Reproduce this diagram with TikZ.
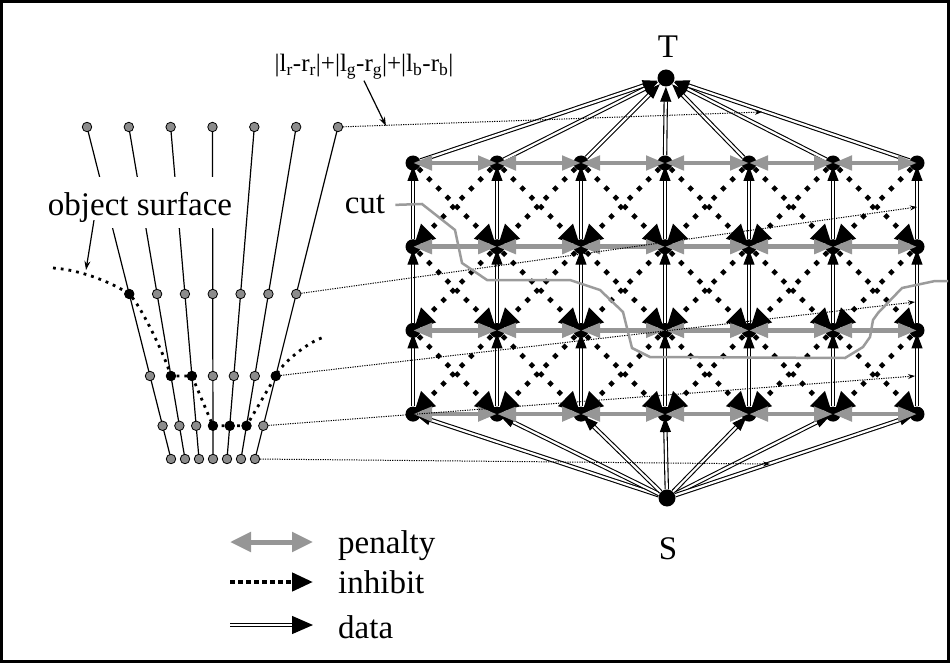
\documentclass[tikz,border=0pt]{standalone}
\usepackage{fontspec}
\setmainfont{Liberation Serif}
\usetikzlibrary{arrows.meta,calc}
\definecolor{pengray}{RGB}{150,150,150}
\definecolor{dotgray}{RGB}{140,140,140}
\definecolor{cutgray}{RGB}{155,155,155}
\begin{document}
\begin{tikzpicture}[x=1pt,y=-1pt,
  gn/.style={circle,fill=black,inner sep=0pt,minimum size=15pt},
  endn/.style={circle,fill=black,inner sep=0pt,minimum size=17pt},
  fd/.style={circle,draw=black,fill=dotgray,line width=0.8pt,inner sep=0pt,minimum size=9.5pt},
  bd/.style={circle,draw=black,fill=black,line width=0.8pt,inner sep=0pt,minimum size=9.5pt},
  fanline/.style={line width=1.2pt},
  dataedge/.style={draw=black,line width=1.1pt,double=white,double distance=2.2pt,-{Triangle[length=15pt,width=11pt]}},
  inhibit/.style={line width=4.6pt,dash pattern=on 4.6pt off 8.5pt,-{Triangle[length=21pt,width=20pt]},shorten >=1pt},
  penalty/.style={draw=pengray,line width=4.5pt,{Triangle[length=19pt,width=14pt]}-{Triangle[length=19pt,width=14pt]}},
  corr/.style={line width=1pt,dash pattern=on 1.2pt off 1.2pt,-{Stealth[length=7pt,width=5pt]}},
  lblarrow/.style={line width=1.2pt,-{Stealth[length=9pt,width=6pt]}},
  surf/.style={line width=2.8pt,dash pattern=on 2.8pt off 5pt},
  cutline/.style={draw=cutgray,line width=2.5pt},
  lbl/.style={font=\fontsize{33}{40}\selectfont,inner sep=2pt},
  legpen/.style={draw=pengray,line width=5pt,{Triangle[length=21pt,width=19pt]}-{Triangle[length=21pt,width=19pt]}},
  leginh/.style={line width=4.5pt,dash pattern=on 4.5pt off 3.5pt,-{Triangle[length=21pt,width=18pt]}},
  legdata/.style={draw=black,line width=1.3pt,double=white,double distance=2pt,-{Triangle[length=21pt,width=18pt]}}
]
\useasboundingbox (0,0) rectangle (950,663);
\draw[line width=2.5pt] (1.5,1.5) rectangle (948.5,661.5);

% ---------- grid nodes ----------
\foreach \r in {1,...,4}{
  \foreach \c in {1,...,7}{
    \node[gn] (n-\r-\c) at ({413+84*(\c-1)},{163+83.7*(\r-1)}) {};
  }
}
\node[endn] (T) at (666,78) {};
\node[endn] (S) at (667,498) {};

% ---------- inhibit edges ----------
\foreach \r in {1,2,3}{
  \foreach \c in {1,...,7}{
    \pgfmathtruncatemacro{\rn}{\r+1}
    \pgfmathtruncatemacro{\cl}{\c-1}
    \pgfmathtruncatemacro{\cr}{\c+1}
    \ifnum\c>1 \draw[inhibit] (n-\r-\c) -- (n-\rn-\cl.center);\fi
    \ifnum\c<7 \draw[inhibit] (n-\r-\c) -- (n-\rn-\cr.center);\fi
  }
}

% ---------- data edges ----------
\foreach \r in {1,2,3}{
  \foreach \c in {1,...,7}{
    \pgfmathtruncatemacro{\rn}{\r+1}
    \draw[dataedge,shorten >=3pt] (n-\rn-\c) -- (n-\r-\c.center);
  }
}
\foreach \c in {1,...,7}{
  \draw[dataedge] (n-1-\c) -- (T);
  \draw[dataedge,shorten >=3pt] (S) -- (n-4-\c.center);
}

% ---------- penalty edges ----------
\foreach \r in {1,...,4}{
  \foreach \c in {1,...,6}{
    \pgfmathtruncatemacro{\cn}{\c+1}
    \draw[penalty] (n-\r-\c.center) -- (n-\r-\cn.center);
  }
}

% ---------- left fan ----------
\foreach \i in {0,...,6}{
  \coordinate (ft\i) at ({87+41.83*\i},127);
  \coordinate (fb\i) at ({171+14*\i},459);
  \draw[fanline] (ft\i) -- (fb\i);
}
\node[lbl,fill=white,text height=36pt,text depth=11pt,anchor=base] (osl) at (140,215) {object surface};

\foreach \i in {0,...,6} \node[fd] (d1-\i) at (ft\i) {};
\foreach \i/\s in {0/bd,1/fd,2/fd,3/fd,4/fd,5/fd,6/fd}
  \node[\s] (d2-\i) at ($(ft\i)!0.503!(fb\i)$) {};
\foreach \i/\s in {0/fd,1/bd,2/bd,3/fd,4/fd,5/fd,6/bd}
  \node[\s] (d3-\i) at ($(ft\i)!0.75!(fb\i)$) {};
\foreach \i/\s in {0/fd,1/fd,2/fd,3/bd,4/bd,5/bd,6/fd}
  \node[\s] (d4-\i) at ($(ft\i)!0.9!(fb\i)$) {};
\foreach \i in {0,...,6} \node[fd] (d5-\i) at (fb\i) {};

% object surface curve
\coordinate (osL) at (53,268);
\coordinate (osR) at (325,337);
\draw[surf] (osL) .. controls +(30,2) and +(-15,-10) .. (d2-0.center)
  .. controls +(12,12) and +(-6,-20) .. (d3-1.center) -- (d3-2.center)
  -- (d4-3.center) -- (d4-5.center) -- (d3-6.center)
  .. controls +(5,-12) and +(-15,3) .. (osR);
\foreach \s in {d2-0,d3-1,d3-2,d4-3,d4-4,d4-5,d3-6}
  \fill (\s) circle (4.75pt);

\coordinate (osA) at (86,270);
\draw[lblarrow] ($(osl.south)+(-46,-8)$) -- (osA);

% ---------- correspondence lines ----------
\coordinate (c1) at (762,112);
\coordinate (c2) at (917,207);
\coordinate (c3) at (915,302);
\coordinate (c4) at (915,376);
\coordinate (c5) at (770,464);
\draw[corr] (d1-6) -- (c1);
\draw[corr] (d2-6) -- (c2);
\draw[corr] (d3-6) -- (c3);
\draw[corr] (d4-6) -- (c4);
\draw[corr] (d5-6) -- (c5);

% formula label
\node[anchor=base,font=\fontsize{25}{30}\selectfont,inner sep=1pt] (fl) at (364,72)
  {|l\textsubscript{r}-r\textsubscript{r}|+|l\textsubscript{g}-r\textsubscript{g}|+|l\textsubscript{b}-r\textsubscript{b}|};
\coordinate (fa) at (386,126);
\draw[lblarrow] (fl.south) -- (fa);

% ---------- cut ----------
\node[lbl,anchor=base] (cutl) at (365,214) {cut};
\draw[cutline] ([xshift=8pt]cutl.east) -- (422,204) -- (455,230) -- (462,263) -- (487,280)
  -- (570,280) -- (600,290) -- (623,312) -- (632,348) -- (650,357) -- (845,358)
  -- (863,347) -- (870,337) -- (873,320) -- (878,313) -- (902,288) -- (935,281) -- (948,281);

% ---------- T and S labels ----------
\node[lbl,anchor=base] (Tl) at (668,58) {T};
\node[lbl,anchor=base] (Sl) at (668,559) {S};

% ---------- legend ----------
\coordinate (lp1) at (230,542); \coordinate (lp2) at (313,542);
\coordinate (li1) at (230,582); \coordinate (li2) at (313,582);
\coordinate (ld1) at (230,625); \coordinate (ld2) at (313,625);
\draw[legpen] (lp1) -- (lp2);
\draw[leginh] (li1) -- (li2);
\draw[legdata] (ld1) -- (ld2);
\node[lbl,anchor=base west] (lpt) at (336,553) {penalty};
\node[lbl,anchor=base west] (lit) at (336,593) {inhibit};
\node[lbl,anchor=base west] (ldt) at (336,638) {data};
\end{tikzpicture}
\end{document}
